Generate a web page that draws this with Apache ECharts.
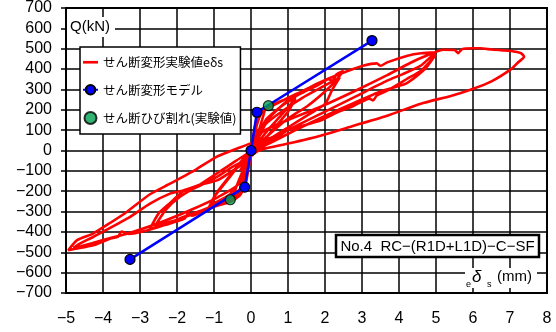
<!DOCTYPE html>
<html><head><meta charset="utf-8">
<script src="https://cdn.jsdelivr.net/npm/echarts@6/dist/echarts.min.js"></script>
<style>html,body{margin:0;padding:0;background:#fff}#c{width:556px;height:332px}</style>
</head><body><div id="c"></div>
<script>
// ---- data ----
var xTicks = {min: -5, max: 8, interval: 1};
var yTicks = {min: -700, max: 700, interval: 100};

// experimental shear deformation hysteresis, cycle by cycle [δs(mm), Q(kN)]
var redSmall = [[0,0],[0.06,60],[0.12,120],[0.18,165],[0.22,185],[0.15,120],[0.06,40],[0,-10],[-0.06,-70],[-0.12,-130],[-0.18,-170],[-0.22,-185],[-0.15,-120],[-0.06,-40],[0,10],[0.08,90],[0.16,160],[0.28,200],[0.4,215],[0.3,150],[0.15,60],[0,-15],[-0.1,-100],[-0.2,-170],[-0.35,-215],[-0.5,-240],[-0.4,-180],[-0.2,-90],[0,0]];
var red12 = [[0.15,120],[0.3,190],[0.6,225],[0.9,250],[1.25,280],[1.1,235],[0.8,170],[0.5,110],[0.2,40],[0,-20],[-0.15,-150],[-0.3,-210],[-0.6,-250],[-0.9,-270],[-1.15,-285],[-1.0,-230],[-0.7,-160],[-0.4,-90],[-0.1,-20],[0.1,40],[0.4,150],[0.7,200],[1.0,240],[1.2,255],[1.0,190],[0.7,125],[0.35,50],[0,-25],[-0.3,-150],[-0.6,-220],[-0.9,-250],[-1.1,-265],[-0.9,-200],[-0.6,-130],[-0.3,-60],[0,0]];
var red25 = [[0.2,100],[0.6,180],[1.0,245],[1.4,285],[1.8,320],[2.1,350],[2.2,342],[2.3,372],[2.5,392],[2.3,345],[2.0,290],[1.5,215],[1.0,157],[0.5,80],[0.2,30],[0,-15],[-0.2,-170],[-0.6,-235],[-1.2,-290],[-1.6,-320],[-1.7,-308],[-1.8,-335],[-2.3,-365],[-2.73,-385],[-2.5,-310],[-2.2,-260],[-1.83,-200],[-1.6,-190],[-1.4,-175],[-0.92,-130],[-0.5,-80],[-0.1,-40],[0.1,20],[0.4,130],[0.9,200],[1.4,260],[1.9,310],[2.4,360],[2.2,300],[2.0,229],[1.5,170],[1.0,113],[0.5,55],[0.15,10],[0,-30],[-0.3,-190],[-0.8,-250],[-1.4,-300],[-2.0,-340],[-2.6,-372],[-2.3,-290],[-1.9,-225],[-1.4,-170],[-0.9,-110],[-0.4,-50],[0,0]];
var red50 = [[0.05,60],[0.15,150],[0.34,196],[0.8,240],[1.25,279],[1.8,330],[2.42,377],[3.05,417],[3.4,428],[3.5,416],[3.68,433],[4.23,466],[4.6,478],[4.99,482],[4.8,450],[4.59,417],[4.1,375],[3.68,343],[2.78,261],[1.88,180],[1.0,100],[0.5,40],[0.2,0],[0,-30],[-0.15,-170],[-0.3,-220],[-0.56,-252],[-1.1,-280],[-1.83,-327],[-2.4,-370],[-2.8,-392],[-3.3,-410],[-3.5,-398],[-3.6,-425],[-3.81,-433],[-4.27,-466],[-4.94,-490],[-4.7,-440],[-4.27,-408],[-3.8,-355],[-3.36,-302],[-2.73,-215],[-2.19,-163],[-1.5,-95],[-0.92,-30],[-0.3,15],[0,35],[0.5,60],[1.0,100],[1.88,147],[2.3,185],[2.78,220],[3.2,255],[3.3,246],[3.4,270],[3.68,294],[4.2,350],[4.59,392],[4.85,440],[4.99,470],[4.7,400],[4.2,330],[3.5,290],[2.8,235],[2.0,170],[1.2,100],[0.5,35],[0,-10],[-0.3,-160],[-0.9,-230],[-1.6,-290],[-2.4,-350],[-3.2,-400],[-4.0,-440],[-4.6,-470],[-4.8,-478],[-4.6,-455],[-4.27,-425],[-3.3,-330],[-2.73,-261],[-2.19,-212],[-1.83,-196],[-1.4,-170],[-0.92,-147],[-0.5,-100],[-0.1,-49],[0,-10]];
var red75 = [[0.3,90],[1.0,150],[1.88,215],[2.78,290],[3.68,370],[4.3,430],[4.8,470],[5.2,495],[5.5,494],[5.6,478],[5.7,497],[6.0,502],[6.2,502],[6.5,496],[6.8,492],[7.0,490],[7.3,478],[7.38,460],[7.2,430],[7.03,400],[6.5,340],[5.95,300],[5.4,268],[4.59,230],[3.68,171],[2.78,122],[1.88,73],[1.0,34],[0.3,5],[0,-20],[-0.3,-100]];

// shear deformation model (trilinear)
var modelX = [-3.27, -0.17, 0, 0.16, 3.27];
var modelY = [-535, -180, 0, 188, 540];
// shear cracking (experimental)
var crackX = [0.47, -0.56];
var crackY = [220, -242];

var nameExp = 'せん断変形実験値eδs';
var nameModel = 'せん断変形モデル';
var nameCrack = 'せん断ひび割れ(実験値)';
var specimen = 'No.4  RC−(R1D+L1D)−C−SF';

// ---- build ----
var redAll = [].concat(redSmall, red12, red25, red50, red75);
var modelData = modelX.map(function (x, i) { return [x, modelY[i]]; });
var crackData = crackX.map(function (x, i) { return [x, crackY[i]]; });
function fmt(v) { return String(v).replace('-', '−'); }

var chart = echarts.init(document.getElementById('c'), null, {renderer: 'canvas'});
var jp = '"Noto Sans CJK JP", sans-serif';
var lat = '"Liberation Sans", Arial, sans-serif';

chart.setOption({
  animation: false,
  backgroundColor: '#fff',
  grid: {left: 66, right: 9, top: 7, bottom: 39, show: true, borderColor: '#000', borderWidth: 2, backgroundColor: '#fff'},
  xAxis: {
    type: 'value', min: xTicks.min, max: xTicks.max, interval: xTicks.interval,
    axisLine: {show: true, onZero: false, lineStyle: {color: '#000', width: 2}},
    axisTick: {show: false},
    axisLabel: {color: '#000', fontSize: 16, fontFamily: lat, margin: 18, formatter: fmt},
    splitLine: {show: true, lineStyle: {color: '#000', width: 1.5}}
  },
  yAxis: {
    type: 'value', min: yTicks.min, max: yTicks.max, interval: yTicks.interval,
    axisLine: {show: true, onZero: false, lineStyle: {color: '#000', width: 2}},
    axisTick: {show: true, inside: false, length: 5, lineStyle: {color: '#000', width: 1.5}},
    axisLabel: {color: '#000', fontSize: 16, fontFamily: lat, margin: 14, formatter: fmt},
    splitLine: {show: true, lineStyle: {color: '#000', width: 1.5}}
  },
  legend: {
    orient: 'vertical', left: 80, top: 47,
    backgroundColor: '#fff', borderColor: '#000', borderWidth: 1.5,
    padding: [9, 4, 9, 2], itemGap: 15, itemWidth: 15, itemHeight: 12,
    textStyle: {color: '#000', fontSize: 12.5, fontFamily: jp},
    data: [
      {name: nameExp, icon: 'path://M0,0L17,0L17,3L0,3Z'},
      {name: nameModel},
      {name: nameCrack}
    ]
  },
  series: [
    {name: nameExp, type: 'line', data: redAll, symbol: 'none', smooth: 0.2,
     lineStyle: {color: '#ff0000', width: 2.6}, itemStyle: {color: '#ff0000'}, z: 2},
    {name: nameModel, type: 'line', data: modelData, symbol: 'circle', symbolSize: 10,
     showSymbol: true, showAllSymbol: true,
     lineStyle: {color: '#0000ff', width: 2.5},
     itemStyle: {color: '#0000ff', borderColor: '#000', borderWidth: 1.2}, z: 3},
    {name: nameCrack, type: 'scatter', data: crackData, symbol: 'circle', symbolSize: 10,
     itemStyle: {color: '#00a050', borderColor: '#000', borderWidth: 1.2}, z: 4}
  ],
  graphic: [
    {type: 'rect', shape: {x: 67, y: 17, width: 48, height: 20}, style: {fill: '#fff'}, z: 50},
    {type: 'text', x: 70, y: 27, style: {text: 'Q(kN)', font: '15px ' + lat, fill: '#000', verticalAlign: 'middle'}, z: 51},
    {type: 'rect', shape: {x: 465, y: 268, width: 72, height: 20}, style: {fill: '#fff'}, z: 50},
    {type: 'text', x: 466, y: 285, style: {text: 'e', font: '9px ' + lat, fill: '#000', verticalAlign: 'middle'}, z: 51},
    {type: 'text', x: 472, y: 277, style: {text: 'δ', font: 'italic 17px ' + lat, fill: '#000', verticalAlign: 'middle'}, z: 51},
    {type: 'text', x: 487, y: 285, style: {text: 's', font: '9px ' + lat, fill: '#000', verticalAlign: 'middle'}, z: 51},
    {type: 'text', x: 497, y: 277, style: {text: '(mm)', font: '15px ' + lat, fill: '#000', verticalAlign: 'middle'}, z: 51},
    {type: 'rect', shape: {x: 336, y: 235, width: 203, height: 22}, style: {fill: '#fff', stroke: '#000', lineWidth: 2.5}, z: 50},
    {type: 'text', x: 437.5, y: 246.5, style: {text: specimen, font: '15px ' + lat, fill: '#000', align: 'center', verticalAlign: 'middle'}, z: 51}
  ]
});
</script></body></html>
